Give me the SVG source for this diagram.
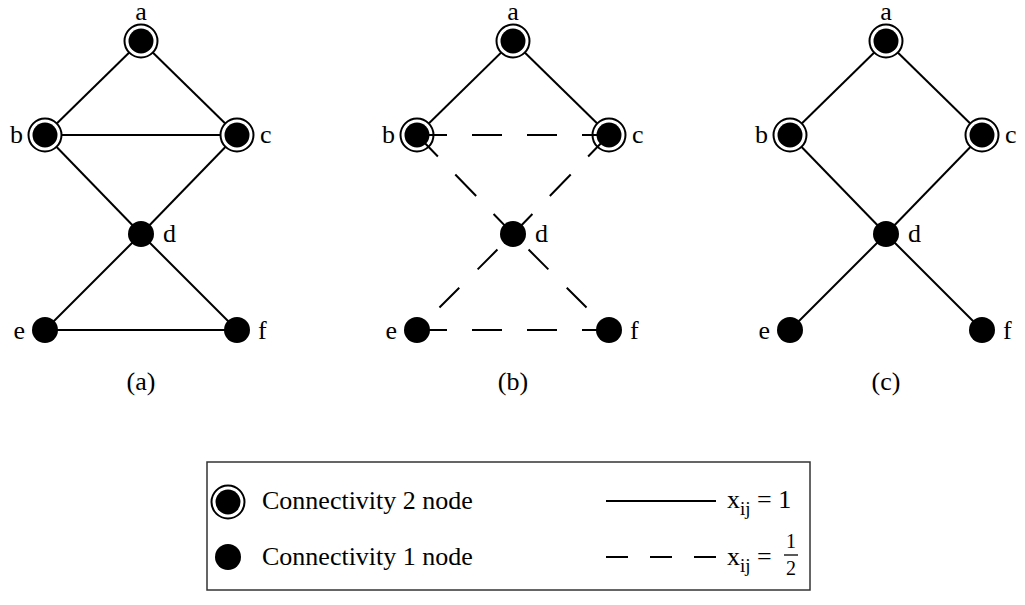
<svg xmlns="http://www.w3.org/2000/svg" width="1025" height="605" viewBox="0 0 1025 605" font-family="'Liberation Serif', 'DejaVu Serif', serif">
<defs>
<style>
text{font-family:'Liberation Serif','DejaVu Serif',serif;font-size:26px;fill:#000}
.e{stroke:#000;stroke-width:2;fill:none}
.d{stroke:#000;stroke-width:2;fill:none;stroke-dasharray:30 25}
.d2{stroke:#000;stroke-width:2;fill:none;stroke-dasharray:28 26;stroke-dashoffset:32}
.ring{fill:#fff;stroke:#000;stroke-width:2}
.dot{fill:#000}
.sub{font-size:19px}
</style>
<g id="n2"><circle r="16.5" class="ring"/><circle r="12.5" class="dot"/></g>
<g id="n1"><circle r="13" class="dot"/></g>
</defs>
<rect width="1025" height="605" fill="#fff"/>

<g id="connectors">
<g id="edges-a">
<line class="e" x1="141" y1="41" x2="45" y2="135"/>
<line class="e" x1="141" y1="41" x2="237" y2="135"/>
<line class="e" x1="45" y1="135" x2="237" y2="135"/>
<line class="e" x1="45" y1="135" x2="141" y2="234"/>
<line class="e" x1="237" y1="135" x2="141" y2="234"/>
<line class="e" x1="141" y1="234" x2="45" y2="330"/>
<line class="e" x1="141" y1="234" x2="237" y2="330"/>
<line class="e" x1="45" y1="330" x2="237" y2="330"/>
</g>
<g id="edges-b-solid">
<line class="e" x1="513" y1="41" x2="417" y2="135"/>
<line class="e" x1="513" y1="41" x2="609" y2="135"/>
</g>
<g id="edges-c">
<line class="e" x1="886" y1="41" x2="790" y2="135"/>
<line class="e" x1="886" y1="41" x2="982" y2="135"/>
<line class="e" x1="790" y1="135" x2="886" y2="234"/>
<line class="e" x1="982" y1="135" x2="886" y2="234"/>
<line class="e" x1="886" y1="234" x2="790" y2="330"/>
<line class="e" x1="886" y1="234" x2="982" y2="330"/>
</g>
</g>

<g id="a-a"><use href="#n2" x="141" y="41"/><text x="141" y="20" text-anchor="middle">a</text></g>
<g id="a-b"><use href="#n2" x="45" y="135"/><text x="23" y="143" text-anchor="end">b</text></g>
<g id="a-c"><use href="#n2" x="237" y="135"/><text x="260" y="143">c</text></g>
<g id="a-d"><use href="#n1" x="141" y="234"/><text x="163" y="242">d</text></g>
<g id="a-e"><use href="#n1" x="45" y="330"/><text x="25" y="339" text-anchor="end">e</text></g>
<g id="a-f"><use href="#n1" x="237" y="330"/><text x="258" y="339">f</text></g>

<g id="b-a"><use href="#n2" x="513" y="41"/><text x="513" y="20" text-anchor="middle">a</text></g>
<g id="b-b"><use href="#n2" x="417" y="135"/><text x="395" y="143" text-anchor="end">b</text></g>
<g id="b-c"><use href="#n2" x="609" y="135"/><text x="632" y="143">c</text></g>
<g id="b-d"><use href="#n1" x="513" y="234"/><text x="535" y="242">d</text></g>
<g id="b-e"><use href="#n1" x="417" y="330"/><text x="397" y="339" text-anchor="end">e</text></g>
<g id="b-f"><use href="#n1" x="609" y="330"/><text x="630" y="339">f</text></g>

<g id="edges-b-dashed">
<line class="d" x1="417" y1="135" x2="609" y2="135"/>
<line class="d" x1="417" y1="135" x2="513" y2="234"/>
<line class="d" x1="609" y1="135" x2="513" y2="234"/>
<line class="d2" x1="513" y1="234" x2="417" y2="330"/>
<line class="d2" x1="513" y1="234" x2="609" y2="330"/>
<line class="d" x1="417" y1="330" x2="609" y2="330"/>
</g>

<g id="c-a"><use href="#n2" x="886" y="41"/><text x="886" y="20" text-anchor="middle">a</text></g>
<g id="c-b"><use href="#n2" x="790" y="135"/><text x="768" y="143" text-anchor="end">b</text></g>
<g id="c-c"><use href="#n2" x="982" y="135"/><text x="1005" y="143">c</text></g>
<g id="c-d"><use href="#n1" x="886" y="234"/><text x="908" y="242">d</text></g>
<g id="c-e"><use href="#n1" x="790" y="330"/><text x="770" y="339" text-anchor="end">e</text></g>
<g id="c-f"><use href="#n1" x="982" y="330"/><text x="1003" y="339">f</text></g>

<g id="captions">
<text x="141" y="390" text-anchor="middle">(a)</text>
<text x="513" y="390" text-anchor="middle">(b)</text>
<text x="886" y="390" text-anchor="middle">(c)</text>
</g>

<g id="legend">
<rect x="207" y="462" width="603" height="128" fill="#fff" stroke="#333" stroke-width="1.5"/>
<use href="#n2" x="228" y="502"/>
<use href="#n1" x="228" y="557"/>
<text x="262" y="509">Connectivity 2 node</text>
<text x="262" y="565">Connectivity 1 node</text>
<line class="e" x1="606" y1="501" x2="716" y2="501"/>
<line class="e" x1="606" y1="557" x2="716" y2="557" style="stroke-dasharray:22 22"/>
<text x="727" y="508">x<tspan class="sub" dy="7">ij</tspan><tspan dy="-7"> = 1</tspan></text>
<text x="727" y="565">x<tspan class="sub" dy="7">ij</tspan><tspan dy="-7"> = </tspan></text>
<text x="791" y="548" text-anchor="middle" style="font-size:20px">1</text>
<line x1="784" y1="555" x2="798" y2="555" stroke="#000" stroke-width="1.3"/>
<text x="791" y="575" text-anchor="middle" style="font-size:20px">2</text>
</g>
</svg>
